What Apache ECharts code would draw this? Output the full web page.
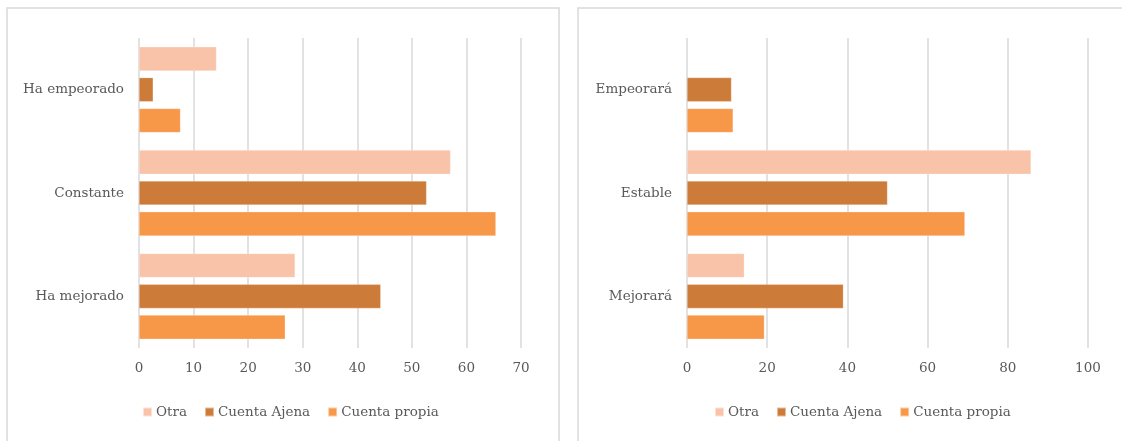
<!DOCTYPE html>
<html>
<head>
<meta charset="utf-8">
<script src="https://cdn.jsdelivr.net/npm/echarts@6/dist/echarts.min.js"></script>
<style>
html,body{margin:0;padding:0;background:#fff;}
#c{width:1122px;height:441px;}
</style>
</head>
<body>
<div id="c"></div>
<script>
// Data
var seriesNames = ['Otra', 'Cuenta Ajena', 'Cuenta propia'];
var leftCategories = ['Ha mejorado', 'Constante', 'Ha empeorado'];
var leftOtra = [28.6, 57.1, 14.2];
var leftAjena = [44.3, 52.7, 2.6];
var leftPropia = [26.8, 65.4, 7.6];
var rightCategories = ['Mejorará', 'Estable', 'Empeorará'];
var rightOtra = [14.3, 85.8, null];
var rightAjena = [39.0, 50.0, 11.1];
var rightPropia = [19.3, 69.3, 11.5];
var leftTicks = {min: 0, max: 70, interval: 10};
var rightTicks = {min: 0, max: 100, interval: 20};

var colors = {'Otra': '#F9C3A9', 'Cuenta Ajena': '#CD7B38', 'Cuenta propia': '#F79748'};
var FONT = 'DejaVu Serif';
var TXT = '#595959';
var GRIDC = '#D9D9D9';

function xAxis(idx, t) {
  return {
    type: 'value', gridIndex: idx, min: t.min, max: t.max, interval: t.interval,
    axisLine: {show: false}, axisTick: {show: false},
    axisLabel: {color: TXT, fontFamily: FONT, fontSize: 13.5, margin: 13},
    splitLine: {show: true, lineStyle: {color: GRIDC, width: 1.5}}
  };
}
function yAxis(idx, cats) {
  return {
    type: 'category', gridIndex: idx, data: cats,
    axisLine: {show: false}, axisTick: {show: false},
    axisLabel: {color: TXT, fontFamily: FONT, fontSize: 13.5, margin: 15},
    splitLine: {show: false}
  };
}
function bar(name, data, idx) {
  return {
    name: name, type: 'bar', xAxisIndex: idx, yAxisIndex: idx, data: data,
    barGap: '28%', barCategoryGap: '17%',
    itemStyle: {color: colors[name], borderColor: 'rgba(255,255,255,0.5)', borderWidth: 0.5},
    animation: false
  };
}
function legend(left) {
  return {
    data: seriesNames, left: left, top: 405, padding: 0, itemWidth: 9, itemHeight: 9, itemGap: 17,
    icon: 'rect', textStyle: {color: TXT, fontFamily: FONT, fontSize: 13.5, padding: [0, 0, 0, -1]},
    selectedMode: false
  };
}

var chart = echarts.init(document.getElementById('c'), null, {renderer: 'canvas'});
chart.setOption({
  backgroundColor: '#fff',
  animation: false,
  graphic: [
    {type: 'rect', shape: {x: 7, y: 8, width: 552, height: 440}, style: {fill: 'none', stroke: GRIDC, lineWidth: 1.5}, z: -1},
    {type: 'rect', shape: {x: 578, y: 8, width: 600, height: 440}, style: {fill: 'none', stroke: GRIDC, lineWidth: 1.5}, z: -1}
  ],
  grid: [
    {left: 139, top: 38, width: 382, height: 310},
    {left: 687, top: 38, width: 401, height: 310}
  ],
  xAxis: [xAxis(0, leftTicks), xAxis(1, rightTicks)],
  yAxis: [yAxis(0, leftCategories), yAxis(1, rightCategories)],
  legend: [legend(142), legend(714)],
  series: [
    bar('Otra', leftOtra, 0),
    bar('Cuenta Ajena', leftAjena, 0),
    bar('Cuenta propia', leftPropia, 0),
    bar('Otra', rightOtra, 1),
    bar('Cuenta Ajena', rightAjena, 1),
    bar('Cuenta propia', rightPropia, 1)
  ]
});
</script>
</body>
</html>
